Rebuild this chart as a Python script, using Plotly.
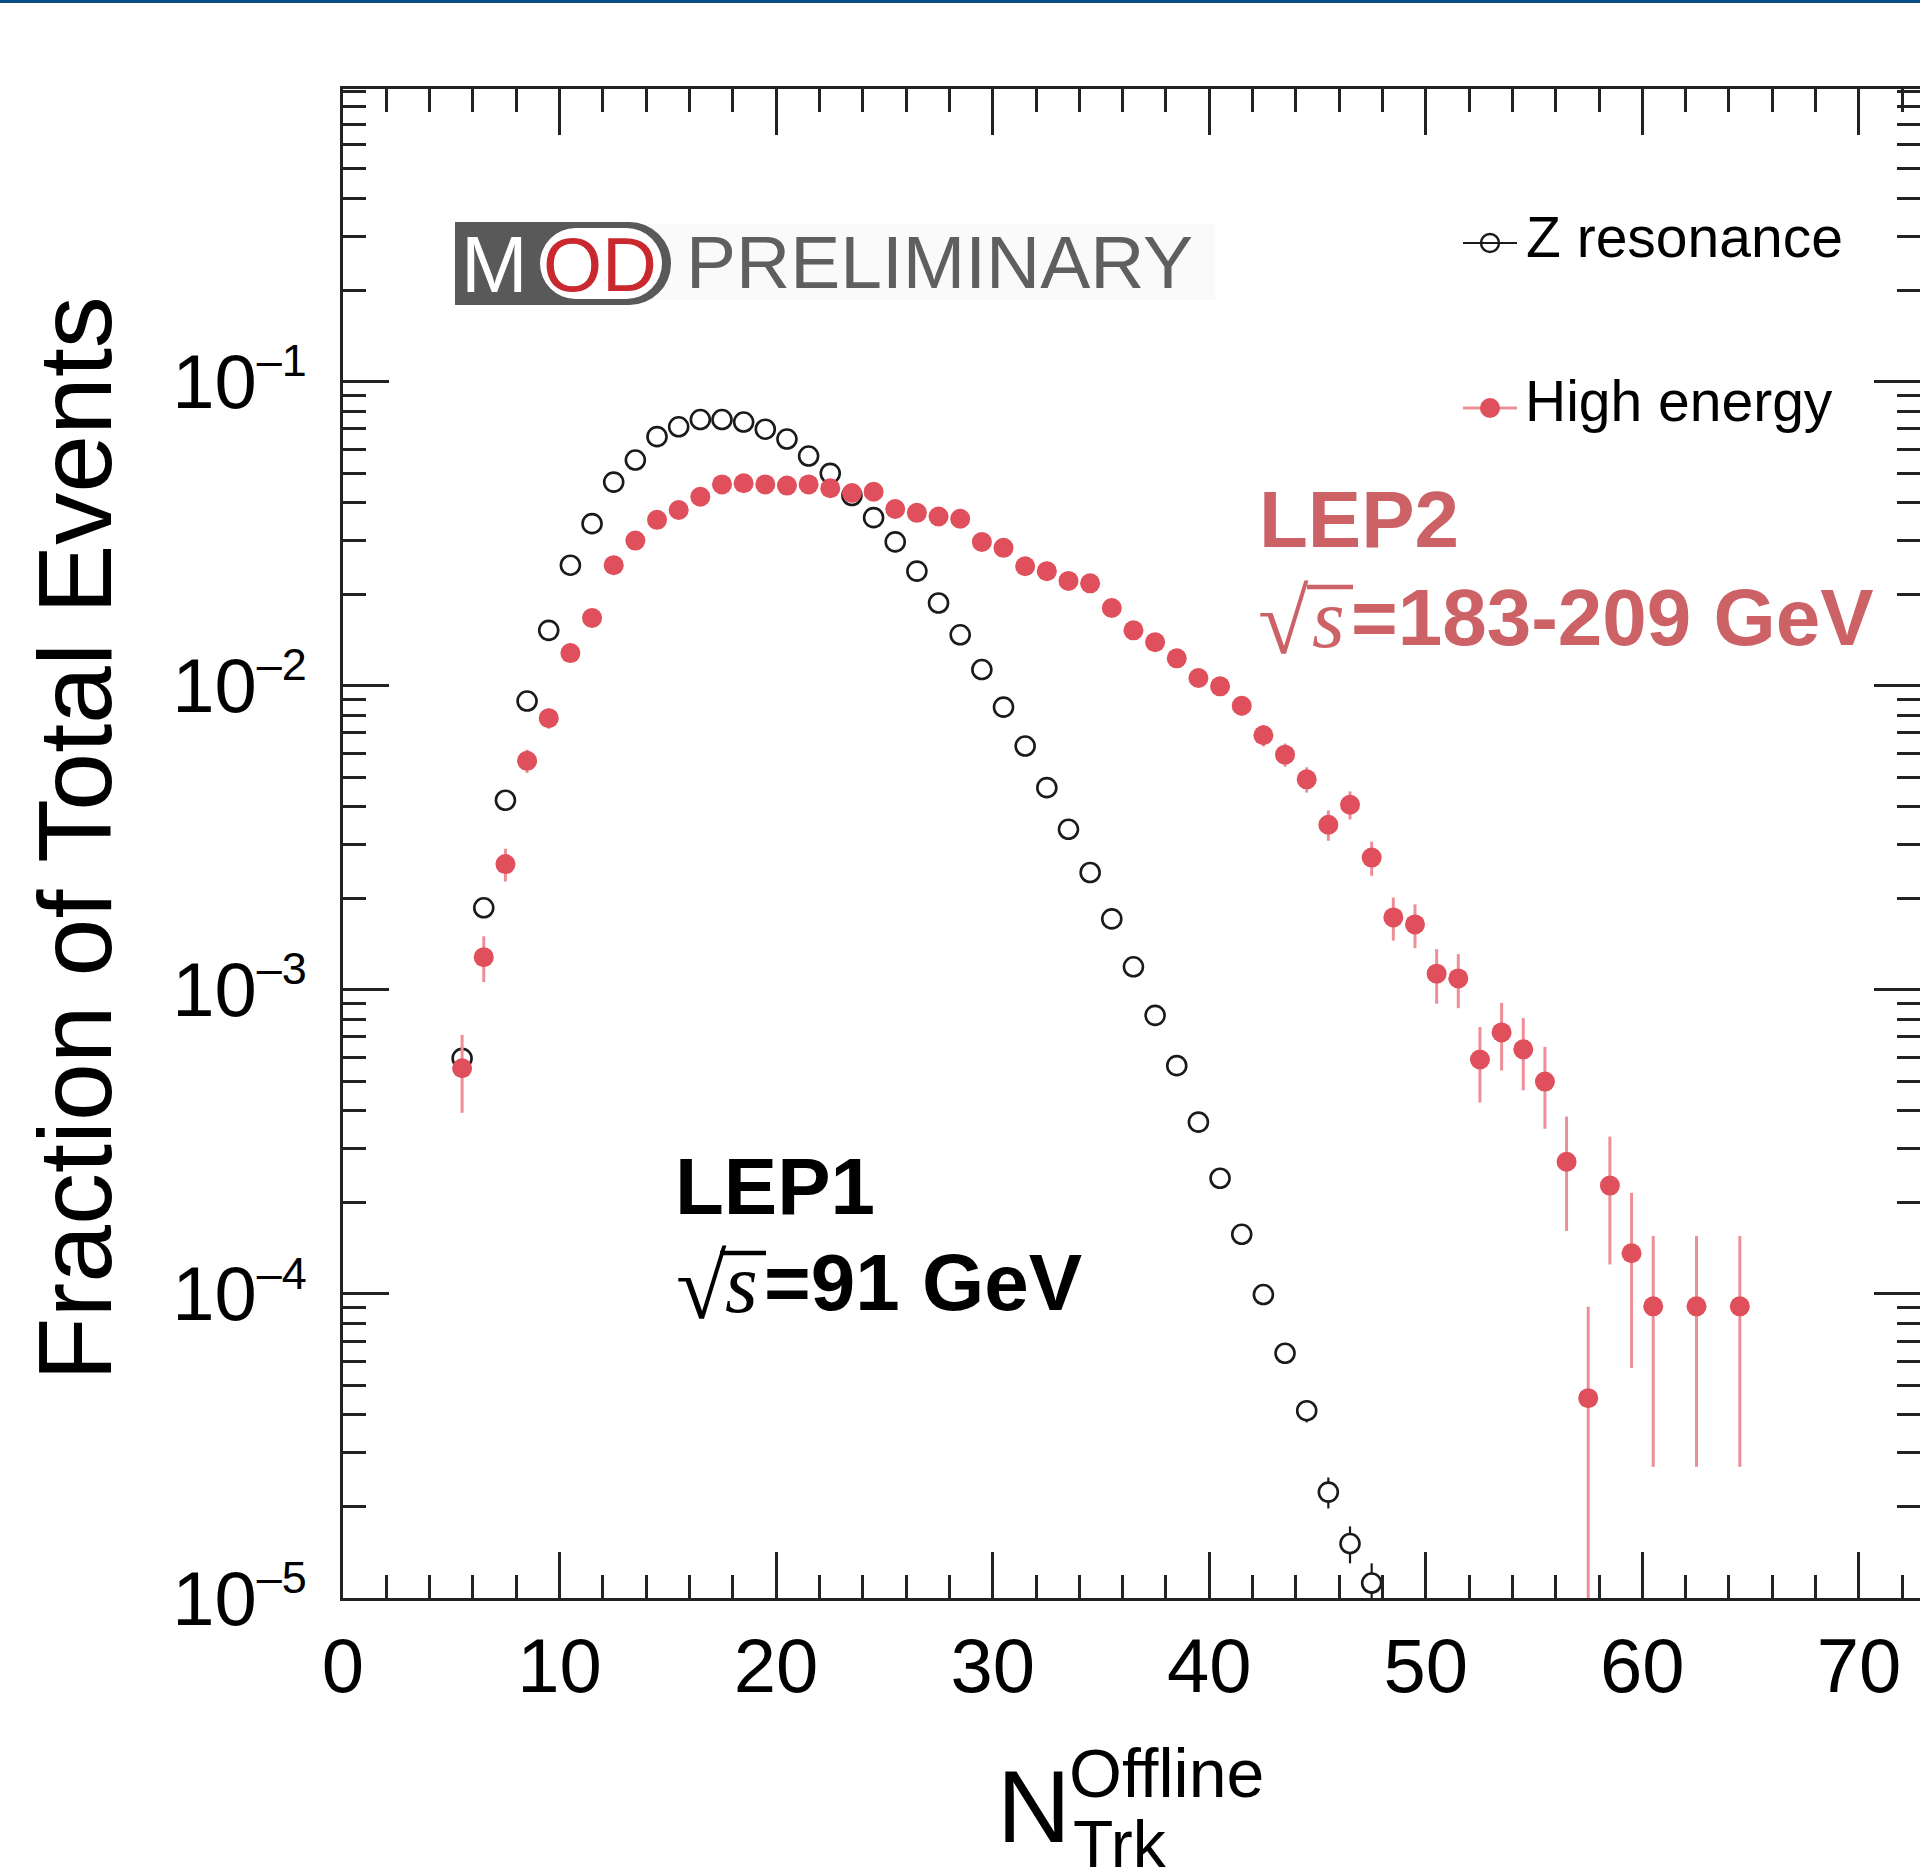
import plotly.graph_objects as go

# ---------------- data ----------------
N_Z = [5.5, 6.5, 7.5, 8.5, 9.5, 10.5, 11.5, 12.5, 13.5, 14.5, 15.5, 16.5, 17.5, 18.5,
       19.5, 20.5, 21.5, 22.5, 23.5, 24.5, 25.5, 26.5, 27.5, 28.5, 29.5, 30.5, 31.5,
       32.5, 33.5, 34.5, 35.5, 36.5, 37.5, 38.5, 39.5, 40.5, 41.5, 42.5, 43.5, 44.5,
       45.5, 46.5, 47.5]
Z_VAL = [5.95e-4, 1.86e-3, 4.2e-3, 8.9e-3, 1.52e-2, 2.49e-2, 3.41e-2, 4.67e-2, 5.52e-2,
         6.59e-2, 7.1e-2, 7.5e-2, 7.5e-2, 7.36e-2, 6.97e-2, 6.47e-2, 5.69e-2, 4.99e-2,
         4.22e-2, 3.57e-2, 2.97e-2, 2.38e-2, 1.87e-2, 1.47e-2, 1.13e-2, 8.5e-3, 6.33e-3,
         4.62e-3, 3.37e-3, 2.43e-3, 1.71e-3, 1.19e-3, 8.24e-4, 5.63e-4, 3.67e-4, 2.40e-4,
         1.57e-4, 9.95e-5, 6.38e-5, 4.13e-5, 2.23e-5, 1.51e-5, 1.12e-5]
Z_ERR = [1.3e-5, 2.4e-5, 3.5e-5, 5.2e-5, 6.8e-5, 8.6e-5, 1.0e-4, 1.2e-4, 1.3e-4, 1.4e-4,
         1.5e-4, 1.5e-4, 1.5e-4, 1.5e-4, 1.4e-4, 1.4e-4, 1.3e-4, 1.2e-4, 1.1e-4, 1.0e-4,
         9.4e-5, 8.4e-5, 7.5e-5, 6.6e-5, 5.8e-5, 5.0e-5, 4.4e-5, 3.7e-5, 3.2e-5, 2.7e-5,
         2.3e-5, 1.9e-5, 1.6e-5, 1.3e-5, 1.05e-5, 8.5e-6, 6.9e-6, 5.5e-6, 4.4e-6, 3.5e-6,
         2.6e-6, 2.1e-6, 1.8e-6]

N_HE = [5.5, 6.5, 7.5, 8.5, 9.5, 10.5, 11.5, 12.5, 13.5, 14.5, 15.5, 16.5, 17.5, 18.5,
        19.5, 20.5, 21.5, 22.5, 23.5, 24.5, 25.5, 26.5, 27.5, 28.5, 29.5, 30.5, 31.5,
        32.5, 33.5, 34.5, 35.5, 36.5, 37.5, 38.5, 39.5, 40.5, 41.5, 42.5, 43.5, 44.5,
        45.5, 46.5, 47.5, 48.5, 49.5, 50.5, 51.5, 52.5, 53.5, 54.5, 55.5, 56.5, 57.5,
        58.5, 59.5, 60.5, 62.5, 64.5]
HE_VAL = [5.52e-4, 1.28e-3, 2.59e-3, 5.66e-3, 7.82e-3, 1.28e-2, 1.67e-2, 2.49e-2, 3.0e-2,
          3.51e-2, 3.78e-2, 4.18e-2, 4.59e-2, 4.63e-2, 4.59e-2, 4.55e-2, 4.59e-2, 4.46e-2,
          4.30e-2, 4.34e-2, 3.81e-2, 3.70e-2, 3.60e-2, 3.54e-2, 2.97e-2, 2.84e-2, 2.47e-2,
          2.38e-2, 2.21e-2, 2.17e-2, 1.80e-2, 1.52e-2, 1.39e-2, 1.23e-2, 1.06e-2, 9.95e-3,
          8.59e-3, 6.87e-3, 5.93e-3, 4.92e-3, 3.49e-3, 4.06e-3, 2.72e-3, 1.73e-3, 1.64e-3,
          1.13e-3, 1.09e-3, 5.9e-4, 7.24e-4, 6.37e-4, 4.99e-4, 2.72e-4, 4.54e-5, 2.27e-4,
          1.36e-4, 9.1e-5, 9.1e-5, 9.1e-5]
HE_ERR = [1.58e-4, 2.2e-4, 3.2e-4, 5.0e-4, 6.0e-4, 7.6e-4, 8.7e-4, 1.06e-3, 1.17e-3,
          1.26e-3, 1.31e-3, 1.38e-3, 1.44e-3, 1.45e-3, 1.44e-3, 1.44e-3, 1.44e-3, 1.42e-3,
          1.40e-3, 1.40e-3, 1.32e-3, 1.30e-3, 1.28e-3, 1.27e-3, 1.16e-3, 1.14e-3, 1.06e-3,
          1.04e-3, 1.0e-3, 9.9e-4, 9.0e-4, 8.3e-4, 7.9e-4, 7.5e-4, 6.9e-4, 6.7e-4,
          6.2e-4, 5.6e-4, 5.2e-4, 4.7e-4, 4.0e-4, 4.3e-4, 3.5e-4, 2.8e-4, 2.7e-4,
          2.3e-4, 2.2e-4, 1.64e-4, 1.81e-4, 1.70e-4, 1.50e-4, 1.11e-4, 4.54e-5, 1.02e-4,
          7.9e-5, 6.4e-5, 6.4e-5, 6.4e-5]

X_TICKS = [0, 10, 20, 30, 40, 50, 60, 70]
X_TICK_LABELS = ["0", "10", "20", "30", "40", "50", "60", "70"]
Y_TICKS = [1e-5, 1e-4, 1e-3, 1e-2, 1e-1]
Y_TICK_LABELS = ["10<sup><span style='font-size:45px'>\u20135</span></sup>",
                 "10<sup><span style='font-size:45px'>\u20134</span></sup>",
                 "10<sup><span style='font-size:45px'>\u20133</span></sup>",
                 "10<sup><span style='font-size:45px'>\u20132</span></sup>",
                 "10<sup><span style='font-size:45px'>\u20131</span></sup>"]

# ---------------- geometry ----------------
W, H = 1920, 1875
ML, MR, MT, MB = 343, 0, 89, 277
PW, PH = W - ML - MR, H - MT - MB


def px(x):
    return (x - ML) / PW


def py(y):
    return (H - MB - y) / PH


FONT = "Liberation Sans, Arial, Helvetica, sans-serif"
SERIF = "Liberation Serif, Times New Roman, serif"
AX = "#222222"
RED_TXT = "#CC6166"
RED_MK = "#E0505C"
RED_ERR = "#EE8F97"

fig = go.Figure()

fig.add_trace(go.Scatter(
    x=N_Z, y=Z_VAL, mode="markers", name="Z resonance", showlegend=False,
    marker=dict(symbol="circle", size=19, color="white", line=dict(width=2.6, color="#1a1a1a")),
    error_y=dict(type="data", array=Z_ERR, arrayminus=Z_ERR, color="#1a1a1a", thickness=2.2, width=0),
))
fig.add_trace(go.Scatter(
    x=N_HE, y=HE_VAL, mode="markers", name="High energy", showlegend=False,
    marker=dict(symbol="circle", size=20, color=RED_MK, line=dict(width=0)),
    error_y=dict(type="data", array=HE_ERR, arrayminus=HE_ERR, color=RED_ERR, thickness=3, width=0),
))

fig.update_layout(
    width=W, height=H, template="none",
    margin=dict(l=ML, r=MR, t=MT, b=MB, pad=0),
    paper_bgcolor="white", plot_bgcolor="white",
    showlegend=False,
    font=dict(family=FONT, color="black"),
    xaxis=dict(
        range=[0, 72.82], tickmode="array", tickvals=X_TICKS, ticktext=X_TICK_LABELS,
        ticks="inside", ticklen=46, tickwidth=3, tickcolor=AX,
        minor=dict(ticks="inside", ticklen=23, tickwidth=3, tickcolor=AX, dtick=2, tick0=0, showgrid=False),
        showline=True, linewidth=3, linecolor=AX, mirror="allticks",
        showgrid=False, zeroline=False, automargin=False,
        tickfont=dict(size=76, family=FONT, color="black"), ticklabelstandoff=0,
    ),
    yaxis=dict(
        type="log", range=[-5, -0.038], tickmode="array", tickvals=Y_TICKS, ticktext=Y_TICK_LABELS,
        ticks="inside", ticklen=46, tickwidth=3, tickcolor=AX,
        minor=dict(ticks="inside", ticklen=23, tickwidth=3, tickcolor=AX, tickmode="linear", dtick="D1", showgrid=False),
        showline=True, linewidth=3, linecolor=AX, mirror="allticks",
        showgrid=False, zeroline=False, automargin=False,
        tickfont=dict(size=76, family=FONT, color="black"), ticklabelstandoff=18,
    ),
)

shapes = []
annos = []


def rect(x0, x1, y0, y1, color):
    shapes.append(dict(type="rect", xref="paper", yref="paper", x0=px(x0), x1=px(x1), y0=py(y1), y1=py(y0),
                       fillcolor=color, line=dict(width=0), layer="above"))


def circ(x0, x1, y0, y1, fill, lcolor=None, lw=0):
    shapes.append(dict(type="circle", xref="paper", yref="paper", x0=px(x0), x1=px(x1), y0=py(y1), y1=py(y0),
                       fillcolor=fill, line=dict(width=lw, color=lcolor or fill), layer="above"))


def hline(x0, x1, y, color, w):
    shapes.append(dict(type="line", xref="paper", yref="paper", x0=px(x0), x1=px(x1), y0=py(y), y1=py(y),
                       line=dict(color=color, width=w), layer="above"))


def text(t, x, y, size, color="black", anchor="left", bold=False, italic=False, angle=0, family=FONT):
    if bold:
        t = "<b>" + t + "</b>"
    if italic:
        t = "<i>" + t + "</i>"
    annos.append(dict(text=t, xref="paper", yref="paper", x=px(x), y=py(y), xanchor=anchor,
                      yanchor="middle", showarrow=False, textangle=angle,
                      font=dict(size=size, color=color, family=family), borderpad=0, borderwidth=0))


# top blue bar
rect(0, W, 0, 3, "#0b4f87")

# ---- MOD PRELIMINARY logo ----
GRAY = "#595959"
rect(600, 1215, 224, 300, "#fafafa")
rect(455, 629.5, 222, 305, GRAY)
circ(588, 671, 222, 305, GRAY)
rect(575.5, 626.5, 228, 299, "white")
circ(540, 611, 228, 299, "white")
circ(591, 662, 228, 299, "white")
text("M", 461, 264, 80, color="white")
text("OD", 543, 264, 76, color="#C8282E")
text("PRELIMINARY", 686, 262.5, 75, color="#5f5f5f")

# ---- legend ----
hline(1463, 1517, 243, "#1a1a1a", 2.2)
circ(1481, 1499, 234, 252, "rgba(0,0,0,0)", "#1a1a1a", 2.4)
hline(1463, 1517, 408, RED_ERR, 3)
circ(1480, 1500, 398, 418, RED_MK)
text("Z resonance", 1526, 237.5, 57)
text("High energy", 1525, 401, 57)

# ---- LEP labels ----
text("LEP2", 1259, 519.5, 80, color=RED_TXT, bold=True)
text("\u221a", 1258, 622, 92, color=RED_TXT, family=SERIF)
text("s", 1312, 618, 84, color=RED_TXT, italic=True, family=SERIF)
hline(1307, 1353, 587, RED_TXT, 4.5)
text("=183-209 GeV", 1351, 617, 80, color=RED_TXT, bold=True)

text("LEP1", 675, 1186, 80, bold=True)
text("\u221a", 676, 1287, 92, family=SERIF)
text("s", 725, 1283, 84, italic=True, family=SERIF)
hline(720, 766, 1253, "black", 4.5)
text("=91 GeV", 764, 1282, 80, bold=True)

# ---- axis titles ----
text("Fraction of Total Events", 75, 839, 104, anchor="center", angle=-90)
text("N", 997, 1806.5, 102)
text("Offline", 1069, 1772.5, 68)
text("Trk", 1073, 1844, 66)

fig.update_layout(shapes=shapes, annotations=annos)
fig.write_html("out.html")
